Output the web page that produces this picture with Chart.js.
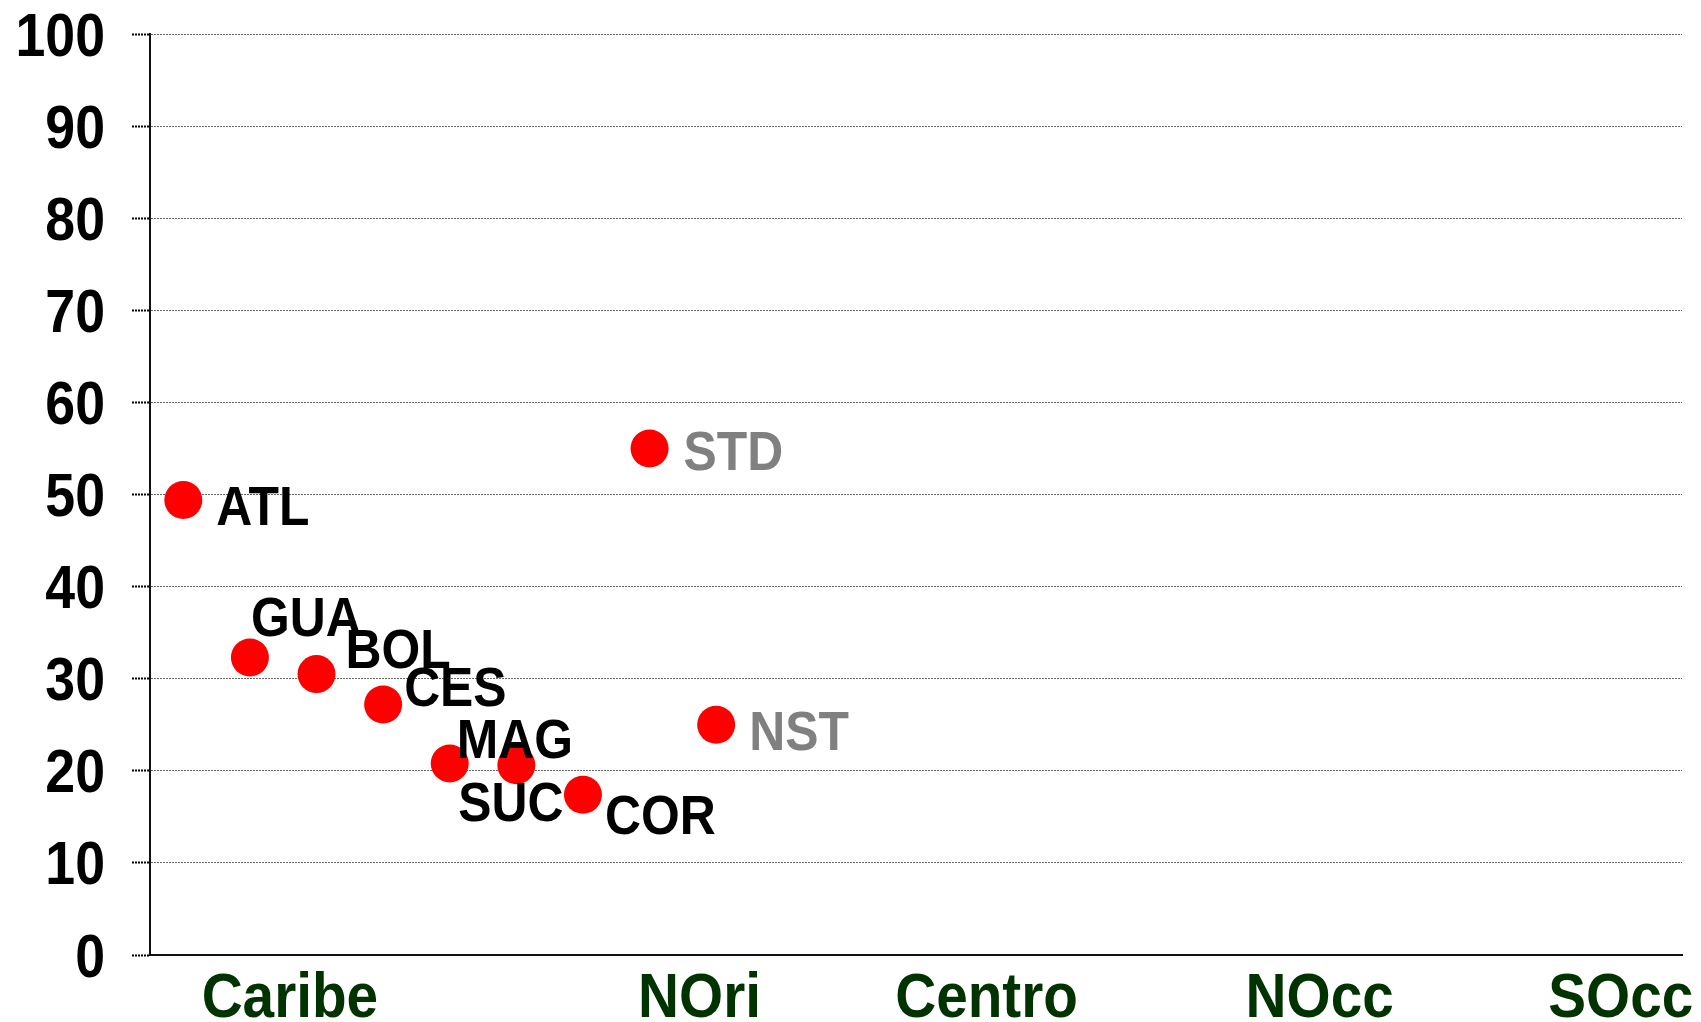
<!DOCTYPE html>
<html>
<head>
<meta charset="utf-8">
<script src="https://cdn.jsdelivr.net/npm/chart.js@4.4.1/dist/chart.umd.min.js"></script>
<style>
  html, body { margin: 0; padding: 0; background: #ffffff; }
  #wrap { width: 1701px; height: 1022px; position: relative; }
</style>
</head>
<body>
<div id="wrap"><canvas id="c"></canvas></div>
<script>
// ---- data ----
const codes = ['ATL', 'GUA', 'BOL', 'CES', 'MAG', 'SUC', 'COR', 'STD', 'NST'];
const xValues = [0.5, 1.5, 2.5, 3.5, 4.5, 5.5, 6.5, 7.5, 8.5];
const values = [49.4, 32.3, 30.5, 27.2, 20.8, 20.6, 17.4, 55.0, 25.0];
const regionLabels = ['Caribe', 'NOri', 'Centro', 'NOcc', 'SOcc'];
const regionPositions = [2.1, 8.25, 12.56, 17.56, 22.08];
const yTickValues = [0, 10, 20, 30, 40, 50, 60, 70, 80, 90, 100];

// ---- styling (label offsets in px, colours, fonts) ----
const labelOffsets = [[33, 5], [1, -42], [29, -26], [21, -18], [7, -25], [-58, 36], [22, 19], [34, 2], [33, 5]];
const labelColors = ['#000', '#000', '#000', '#000', '#000', '#000', '#000', '#808080', '#808080'];
const FONT = "'Liberation Sans', Arial, sans-serif";

const points = xValues.map((x, i) => ({ x: x, y: values[i] }));

function condensedText(ctx, text, x, y, sx, align) {
  ctx.save();
  ctx.translate(x, y);
  ctx.scale(sx, 1);
  ctx.textAlign = align;
  ctx.textBaseline = 'alphabetic';
  ctx.fillText(text, 0, 0);
  ctx.restore();
}

const textPlugin = {
  id: 'condensedTexts',
  afterDraw(chart) {
    const ctx = chart.ctx;
    const xs = chart.scales.x;
    const ys = chart.scales.y;
    ctx.save();
    // y axis tick labels
    ctx.fillStyle = '#000';
    ctx.font = "bold 61px " + FONT;
    ys.ticks.forEach(t => {
      const py = ys.getPixelForValue(t.value);
      condensedText(ctx, String(t.value), ys.right - 45, py + 21.5, 0.88, 'right');
    });
    // x axis category labels
    ctx.fillStyle = '#003300';
    ctx.font = "bold 63px " + FONT;
    xs.ticks.forEach((t, i) => {
      const px = xs.getPixelForValue(t.value);
      condensedText(ctx, regionLabels[i], px, xs.top + 62, 0.9, 'center');
    });
    // point labels
    ctx.font = "bold 56px " + FONT;
    const meta = chart.getDatasetMeta(0);
    meta.data.forEach((el, i) => {
      const off = labelOffsets[i];
      ctx.fillStyle = labelColors[i];
      condensedText(ctx, codes[i], el.x + off[0], el.y + off[1] + 20, 0.89, 'left');
    });
    ctx.restore();
  }
};

new Chart(document.getElementById('c'), {
  type: 'scatter',
  data: {
    datasets: [{
      data: points,
      backgroundColor: '#ff0000',
      borderColor: '#ff0000',
      borderWidth: 0,
      pointRadius: 19,
      pointHoverRadius: 19
    }]
  },
  options: {
    responsive: true,
    maintainAspectRatio: false,
    animation: false,
    layout: { padding: { top: 34, right: 17, left: 0, bottom: 0 } },
    plugins: { legend: { display: false }, tooltip: { enabled: false } },
    scales: {
      x: {
        type: 'linear',
        min: 0,
        max: 23,
        afterBuildTicks(scale) {
          scale.ticks = regionPositions.map(v => ({ value: v }));
        },
        afterFit(scale) {
          scale.height = 67;
          scale.paddingLeft = 0;
          scale.paddingRight = 0;
        },
        grid: { display: false, drawTicks: false },
        border: { display: true, color: '#111', width: 2 },
        ticks: { display: false, autoSkip: false }
      },
      y: {
        min: 0,
        max: 100,
        afterBuildTicks(scale) {
          scale.ticks = yTickValues.map(v => ({ value: v }));
        },
        afterFit(scale) {
          scale.width = 150;
          scale.paddingTop = 0;
          scale.paddingBottom = 0;
        },
        grid: {
          color: '#666666',
          lineWidth: 1,
          tickLength: 18,
          tickColor: '#000',
          tickWidth: 2,
          tickBorderDash: [2, 1]
        },
        border: { display: true, color: '#111', width: 2, dash: [2, 1] },
        ticks: { display: false, autoSkip: false }
      }
    }
  },
  plugins: [textPlugin]
});
</script>
</body>
</html>
